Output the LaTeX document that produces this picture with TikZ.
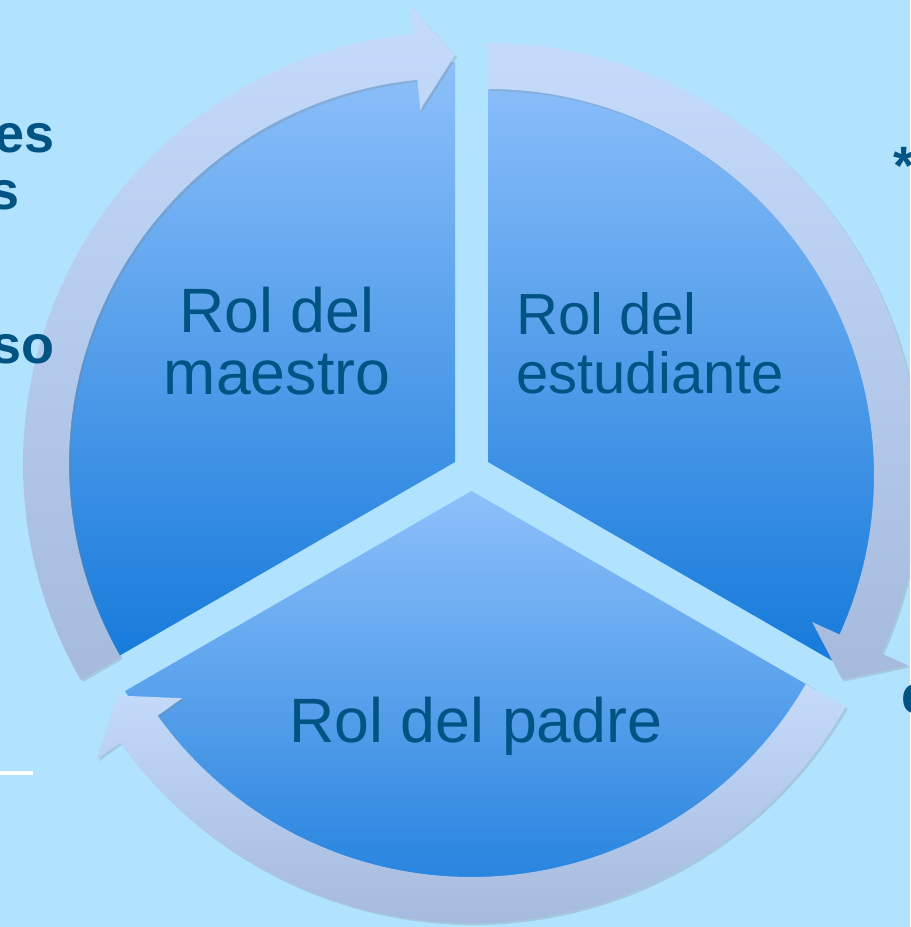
\documentclass[tikz,border=0pt]{standalone}
\usepackage{fontspec}
\setmainfont{Liberation Sans}
\usetikzlibrary{calc,shadows}

\definecolor{bgblue}{RGB}{177,226,254}
\definecolor{sliceTop}{RGB}{141,192,250}
\definecolor{sliceBottom}{RGB}{22,122,218}
\definecolor{bandTop}{RGB}{196,219,252}
\definecolor{bandBottom}{RGB}{165,186,221}
\definecolor{roleBlue}{RGB}{0,83,130}

\tikzset{
  slice/.style={top color=sliceTop, bottom color=sliceBottom},
  band/.style={top color=bandTop, bottom color=bandBottom,
    drop shadow={shadow xshift=1.5pt, shadow yshift=-1.5pt, opacity=0.25}},
  rolname/.style={text=roleBlue, inner sep=0pt, font=\fontsize{47}{46.5}\selectfont},
  sidetext/.style={text=roleBlue, inner sep=0pt, font=\fontsize{40.5}{44}\selectfont\bfseries},
}

\begin{document}
\begin{tikzpicture}[x=0.75pt, y=0.75pt]
    % Frame
    \useasboundingbox (0,0) rectangle (910,-927);
    \clip (0,0) rectangle (910,-927);
    \fill[bgblue] (0,0) rectangle (910,-927);

    % Centres
    \coordinate (maestroTip) at (455,-462);
    \coordinate (estudianteTip) at (488,-462);
    \coordinate (padreTip) at (471.5,-491);
    \coordinate (maestroRing) at (455,-464);
    \coordinate (estudianteRing) at (488,-475);
    \coordinate (padreRing) at (471.5,-491);

    % Slices
    \path[slice] (maestroTip) -- ++(210:400) arc[start angle=210, end angle=90, radius=400] -- cycle;
    \path[slice] (estudianteTip) -- ++(90:400) arc[start angle=90, end angle=-30, radius=400] -- cycle;
    \path[slice] (padreTip) -- ++(-30:400) arc[start angle=-30, end angle=-150, radius=400] -- cycle;

    % Arrows
    \foreach \ring/\from in {maestroRing/210, estudianteRing/90, padreRing/-30}{
        \pgfmathsetmacro\to{\from-120}
        \pgfmathsetmacro\neck{\from-114.4}
        \path[band] ($(\ring)+(\from:386)$) -- ($(\ring)+(\from:432)$)
            arc[start angle=\from, end angle=\neck, radius=432]
            -- ($(\ring)+(\neck:461)$) -- ($(\ring)+(\to:409)$) -- ($(\ring)+(\neck:356)$)
            -- ($(\ring)+(\neck:386)$)
            arc[start angle=\neck, end angle=\from, radius=386] -- cycle;
    }

    % Names
    \node[rolname, align=center, anchor=north] (maestro) at (277,-287) {Rol del\\maestro};
    \node[rolname, font=\fontsize{43.5}{44.2}\selectfont, align=left, anchor=north west] (estudiante) at (516,-292) {Rol del\\estudiante};
    \node[rolname, anchor=base] (padre) at (476,-742) {Rol del padre};

    % Cut-off side texts
    \node[sidetext, anchor=base east] (sideA) at (55,-153) {es};
    \node[sidetext, anchor=base east] (sideB) at (20,-210) {s};
    \node[sidetext, anchor=base east] (sideC) at (55,-363) {so};
    \node[sidetext, anchor=base west] (sideD) at (893,-185) {*};
    \node[sidetext, anchor=base west] (sideE) at (901,-713) {e};
    \fill[white] (0,-771) rectangle (33,-775);
\end{tikzpicture}
\end{document}
